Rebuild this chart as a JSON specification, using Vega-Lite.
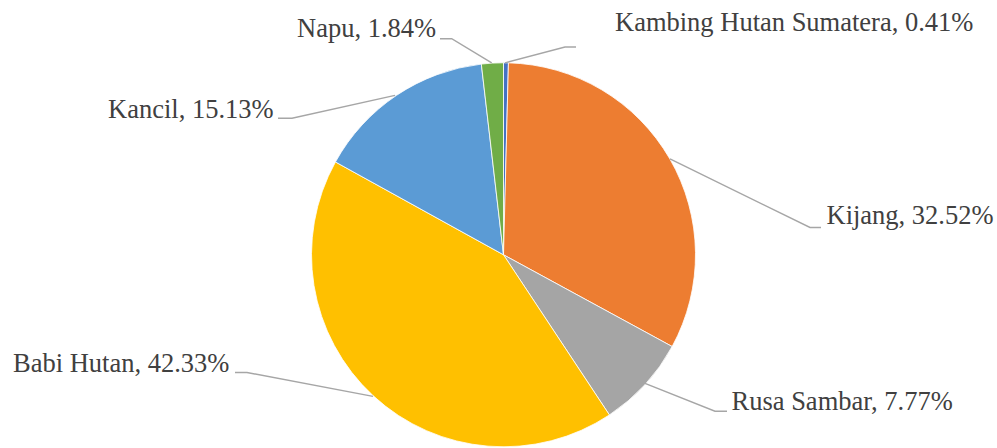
{
  "$schema": "https://vega.github.io/schema/vega-lite/v6.json",
  "width": 997,
  "height": 448,
  "padding": 0,
  "autosize": {"type": "fit", "contains": "padding"},
  "background": "#ffffff",
  "config": {"view": {"stroke": null}},
  "datasets": {
    "slices": [
      {"name": "Kambing Hutan Sumatera", "pct": 0.41, "ord": 1, "label": "Kambing Hutan Sumatera, 0.41%", "tx": 111.5, "ty": 225.5},
      {"name": "Kijang", "pct": 32.52, "ord": 2, "label": "Kijang, 32.52%", "tx": 323, "ty": 30.5},
      {"name": "Rusa Sambar", "pct": 7.77, "ord": 3, "label": "Rusa Sambar, 7.77%", "tx": 228, "ty": -156.5},
      {"name": "Babi Hutan", "pct": 42.33, "ord": 4, "label": "Babi Hutan, 42.33%", "tx": -490.5, "ty": -118.5},
      {"name": "Kancil", "pct": 15.13, "ord": 5, "label": "Kancil, 15.13%", "tx": -395.5, "ty": 138},
      {"name": "Napu", "pct": 1.84, "ord": 6, "label": "Napu, 1.84%", "tx": -206.5, "ty": 219}
    ],
    "leaders": [
      {"name": "Kambing Hutan Sumatera", "i": 1, "lx": 1.5, "ly": 193.2},
      {"name": "Kambing Hutan Sumatera", "i": 2, "lx": 61.5, "ly": 209.2},
      {"name": "Kambing Hutan Sumatera", "i": 3, "lx": 72.5, "ly": 209.2},
      {"name": "Kijang", "i": 1, "lx": 166.5, "ly": 96.5},
      {"name": "Kijang", "i": 2, "lx": 306.5, "ly": 27.5},
      {"name": "Kijang", "i": 3, "lx": 317.5, "ly": 27.5},
      {"name": "Rusa Sambar", "i": 1, "lx": 141.5, "ly": -129.5},
      {"name": "Rusa Sambar", "i": 2, "lx": 211.5, "ly": -157.5},
      {"name": "Rusa Sambar", "i": 3, "lx": 223.5, "ly": -157.5},
      {"name": "Babi Hutan", "i": 1, "lx": -130.5, "ly": -142.5},
      {"name": "Babi Hutan", "i": 2, "lx": -256.5, "ly": -118.5},
      {"name": "Babi Hutan", "i": 3, "lx": -268.5, "ly": -118.5},
      {"name": "Kancil", "i": 1, "lx": -108.5, "ly": 160.5},
      {"name": "Kancil", "i": 2, "lx": -211.5, "ly": 137.5},
      {"name": "Kancil", "i": 3, "lx": -225.5, "ly": 137.5},
      {"name": "Napu", "i": 1, "lx": -11.8, "ly": 193.2},
      {"name": "Napu", "i": 2, "lx": -51.8, "ly": 217.5},
      {"name": "Napu", "i": 3, "lx": -63.5, "ly": 217.5}
    ]
  },
  "layer": [
    {
      "data": {"name": "slices"},
      "mark": {"type": "arc", "outerRadius": 192, "stroke": "#ffffff", "strokeWidth": 0.8},
      "encoding": {
        "x": {"datum": 0, "type": "quantitative", "scale": {"domain": [-503.5, 493.5], "zero": false, "nice": false}, "axis": null},
        "y": {"datum": 0, "type": "quantitative", "scale": {"domain": [-191.5, 256.5], "zero": false, "nice": false}, "axis": null},
        "theta": {"field": "pct", "type": "quantitative", "stack": true},
        "order": {"field": "ord", "type": "quantitative", "sort": "ascending"},
        "color": {
          "field": "name",
          "type": "nominal",
          "legend": null,
          "scale": {
            "domain": ["Kambing Hutan Sumatera", "Kijang", "Rusa Sambar", "Babi Hutan", "Kancil", "Napu"],
            "range": ["#4472C4", "#ED7D31", "#A5A5A5", "#FFC000", "#5B9BD5", "#70AD47"]
          }
        }
      }
    },
    {
      "data": {"name": "leaders"},
      "mark": {"type": "line", "color": "#A6A6A6", "strokeWidth": 1.4},
      "encoding": {
        "x": {"field": "lx", "type": "quantitative", "axis": null},
        "y": {"field": "ly", "type": "quantitative", "axis": null},
        "detail": {"field": "name", "type": "nominal"},
        "order": {"field": "i", "type": "quantitative"}
      }
    },
    {
      "data": {"name": "slices"},
      "mark": {"type": "text", "align": "left", "baseline": "alphabetic", "font": "Times New Roman", "fontSize": 26.5, "color": "#404040"},
      "encoding": {
        "x": {"field": "tx", "type": "quantitative", "axis": null},
        "y": {"field": "ty", "type": "quantitative", "axis": null},
        "text": {"field": "label", "type": "nominal"}
      }
    }
  ]
}
